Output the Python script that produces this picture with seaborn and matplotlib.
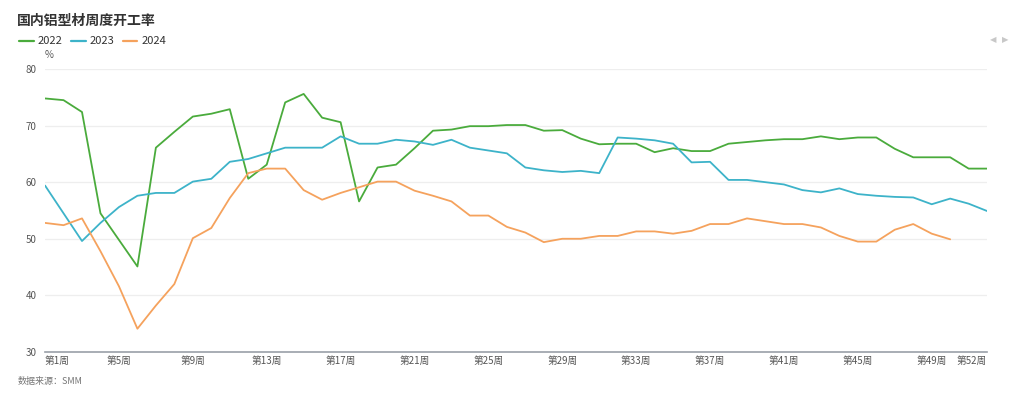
import numpy as np
import pandas as pd
import seaborn as sns
import matplotlib.pyplot as plt

# 数据
weeks = list(range(1, 53))
y2022 = [74.8, 74.5, 72.4, 54.5, 49.8, 45.1, 66.1, 68.9, 71.6, 72.1,
         72.9, 60.6, 63.1, 74.1, 75.6, 71.4, 70.6, 56.6, 62.6, 63.1,
         66.0, 69.1, 69.3, 69.9, 69.9, 70.1, 70.1, 69.1, 69.2, 67.7,
         66.7, 66.8, 66.8, 65.3, 66.0, 65.5, 65.5, 66.8, 67.1, 67.4,
         67.6, 67.6, 68.1, 67.6, 67.9, 67.9, 65.9, 64.4, 64.4, 64.4,
         62.4, 62.4]
y2023 = [59.4, 54.5, 49.6, 52.8, 55.6, 57.6, 58.1, 58.1, 60.1, 60.6,
         63.6, 64.1, 65.1, 66.1, 66.1, 66.1, 68.1, 66.8, 66.8, 67.5,
         67.2, 66.6, 67.5, 66.1, 65.6, 65.1, 62.6, 62.1, 61.8, 62.0,
         61.6, 67.9, 67.7, 67.4, 66.8, 63.5, 63.6, 60.4, 60.4, 60.0,
         59.6, 58.6, 58.2, 58.9, 57.9, 57.6, 57.4, 57.3, 56.1, 57.1,
         56.2, 54.9]
y2024 = [52.8, 52.4, 53.6, 47.8, 41.6, 34.1, 38.2, 42.0, 50.1, 51.9,
         57.2, 61.6, 62.4, 62.4, 58.6, 56.9, 58.1, 59.1, 60.1, 60.1,
         58.5, 57.6, 56.6, 54.1, 54.1, 52.1, 51.1, 49.4, 50.0, 50.0,
         50.5, 50.5, 51.3, 51.3, 50.9, 51.4, 52.6, 52.6, 53.6, 53.1,
         52.6, 52.6, 52.0, 50.5, 49.5, 49.5, 51.6, 52.6, 50.9, 49.9]
tick_weeks = [1, 5, 9, 13, 17, 21, 25, 29, 33, 37, 41, 45, 49, 52]

frames = []
for year, vals in [('2022', y2022), ('2023', y2023), ('2024', y2024)]:
    frames.append(pd.DataFrame({'week': weeks[:len(vals)], 'rate': vals, 'year': year}))
df = pd.concat(frames, ignore_index=True)

sns.set_style('white')
plt.rcParams['font.family'] = ['Noto Sans CJK SC', 'DejaVu Sans']

palette = {'2022': '#4aab3c', '2023': '#3db3c9', '2024': '#f5a25d'}

fig = plt.figure(figsize=(10.24, 3.99), dpi=100)
ax = fig.add_axes([0.044, 0.118, 0.920, 0.709])
sns.lineplot(data=df, x='week', y='rate', hue='year', palette=palette,
             linewidth=1.3, ax=ax, legend=False)

ax.set_xlim(1, 52)
ax.set_ylim(30, 80)
ax.set_yticks([30, 40, 50, 60, 70, 80])
ax.grid(axis='y', color='#eeeeee', linewidth=0.9)
ax.set_axisbelow(True)
for s in ['top', 'right', 'left']:
    ax.spines[s].set_visible(False)
ax.spines['bottom'].set_color('#9aa0a8')
ax.spines['bottom'].set_linewidth(1.2)
ax.set_xlabel('')
ax.set_ylabel('')
ax.tick_params(axis='both', length=0, labelsize=7, colors='#555555', pad=3)
ax.tick_params(axis='y', pad=6)

ax.set_xticks(tick_weeks)
labels = ax.set_xticklabels([f'第{w}周' for w in tick_weeks])
labels[0].set_ha('left')
labels[-1].set_ha('right')

# 标题、图例、单位
fig.text(0.017, 0.948, '国内铝型材周度开工率', fontsize=10, fontweight='bold',
         color='#333333', va='center')
lx = 0.019
for year in ['2022', '2023', '2024']:
    fig.lines.append(plt.Line2D([lx, lx + 0.014], [0.897, 0.897], color=palette[year],
                                linewidth=1.6, transform=fig.transFigure))
    fig.text(lx + 0.018, 0.897, year, fontsize=8, color='#333333', va='center')
    lx += 0.0505
fig.text(0.044, 0.862, '%', fontsize=7, color='#555555', va='center')
fig.text(0.017, 0.045, '数据来源：SMM', fontsize=6.5, color='#777777', va='center')
fig.text(0.967, 0.9, '◀', fontsize=6, color='#c8c8c8', va='center', family='DejaVu Sans')
fig.text(0.978, 0.9, '▶', fontsize=6, color='#c8c8c8', va='center', family='DejaVu Sans')

fig.savefig('out.png', dpi=100)
